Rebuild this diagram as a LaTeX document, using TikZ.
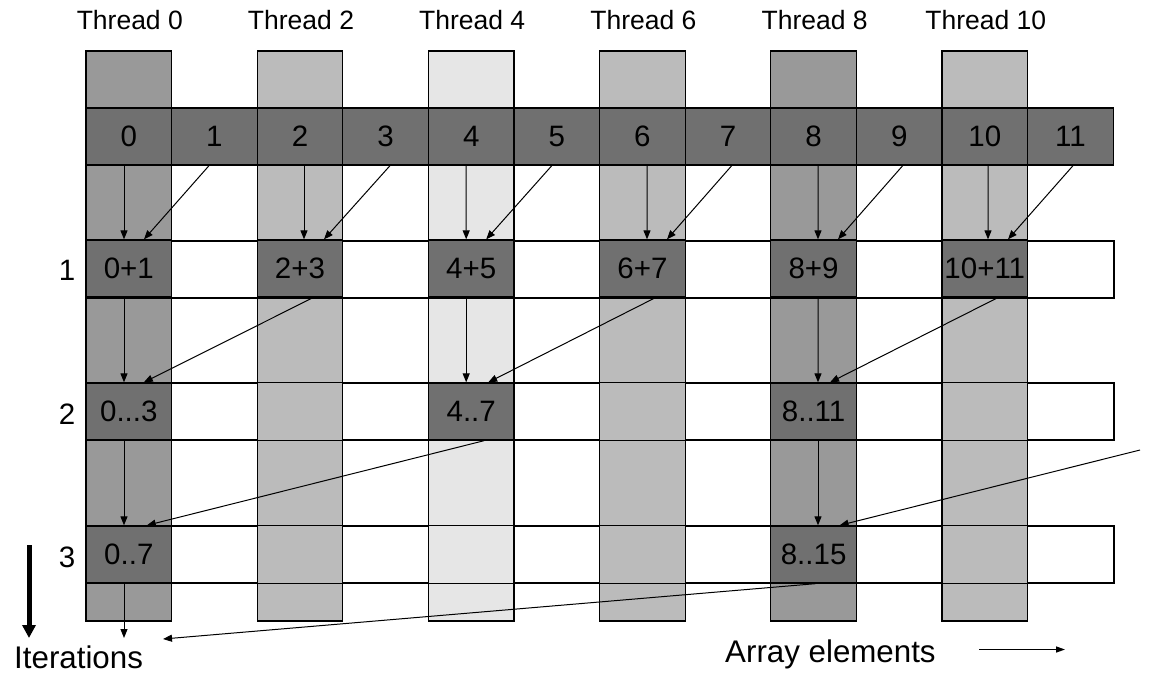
\documentclass[tikz,border=0pt]{standalone}
\usepackage{fontspec}
\setmainfont{Liberation Sans}
\usetikzlibrary{arrows.meta}
\definecolor{cdark}{HTML}{707070}
\definecolor{cmid}{HTML}{999999}
\definecolor{clight}{HTML}{BBBBBB}
\definecolor{cpale}{HTML}{E6E6E6}
\newcommand{\cellfont}{\fontsize{29.5}{32}\selectfont}
\newcommand{\thrfont}{\fontsize{26.5}{30}\selectfont}
\newcommand{\axfont}{\fontsize{31.3}{34}\selectfont}
\tikzset{
  box/.style={draw=black, line width=1.3pt, inner sep=0pt, minimum width=85.6pt, minimum height=57pt},
  elem/.style={box, fill=cdark, font=\cellfont},
  darkcell/.style={box, fill=cdark, font=\cellfont},
  colbar/.style={draw=black, line width=1.3pt, inner sep=0pt, minimum width=85.6pt, minimum height=570pt},
  rowbar/.style={draw=black, line width=1.3pt, inner sep=0pt, minimum width=1027.2pt, minimum height=57pt},
  arr/.style={line width=1pt, -{Triangle[length=9pt,width=7pt]}},
  thr/.style={font=\thrfont, inner sep=0pt},
  rlbl/.style={font=\cellfont, inner sep=0pt},
  axlbl/.style={font=\axfont, anchor=base west, inner sep=0pt},
}
\begin{document}
\begin{tikzpicture}[x=1pt,y=-1pt]
\fill[white] (0,0) rectangle (1150,673);
\useasboundingbox (0,0) rectangle (1150,673);
% row bands (white)
\foreach \r/\y in {1/269.5,2/411.5,3/554.5}
  \node[rowbar, fill=white] (r\r) at (599.6,\y) {};
% thread columns
\foreach \k/\c in {0/cmid,1/clight,2/cpale,3/clight,4/cmid,5/clight}
  \node[colbar, fill=\c] (t\k) at ({128.8+171.2*\k},336) {};
% row outlines over columns
\foreach \r in {1,2,3}
  \draw[line width=1.3pt] (r\r.north west) rectangle (r\r.south east);
% thread labels
\foreach \k/\n in {0/0,1/2,2/4,3/6,4/8,5/10}
  \node[thr] (h\k) at ({129.8+171.2*\k},20) {Thread \n};
% array elements
\foreach \i in {0,...,11}
  \node[elem] (e\i) at ({128.8+85.6*\i},136.5) {\i};
% iteration 1 cells
\foreach \k/\t in {0/0+1,1/2+3,2/4+5,3/6+7,4/8+9,5/10+11}
  \node[darkcell] (c1-\k) at ({128.8+171.2*\k},268.5) {\t};
% iteration 2 cells
\node[darkcell] (c2-0) at (128.8,411.5) {0...3};
\node[darkcell] (c2-2) at (471.2,411.5) {4..7};
\node[darkcell] (c2-4) at (813.6,411.5) {8..11};
% iteration 3 cells
\node[darkcell] (c3-0) at (128.8,554.5) {0..7};
\node[darkcell] (c3-4) at (813.6,554.5) {8..15};
% row labels
\node[rlbl] (l1) at (67,270) {1};
\node[rlbl] (l2) at (67,414) {2};
\node[rlbl] (l3) at (67,557) {3};
% arrows: array -> iteration 1
\foreach \k/\v/\d in {0/-4.8/-5.4,1/4/4.4,2/-5/-5,3/4.6/3.7,4/4.4/3.5,5/3.2/2.6}{
  \pgfmathtruncatemacro{\ea}{2*\k}
  \pgfmathtruncatemacro{\eb}{2*\k+1}
  \draw[arr] ([xshift=\v pt]e\ea.south) -- ([xshift=\v pt]c1-\k.north);
  \draw[arr] ([xshift=\d pt]e\eb.south) -- ([xshift=\v pt+20pt]c1-\k.north);
}
% iteration 1 -> 2
\draw[arr] ([xshift=-4.8pt]c1-0.south) -- ([xshift=-4.8pt]c2-0.north);
\draw[arr] ([xshift=13pt]c1-1.south) -- ([xshift=15pt]c2-0.north);
\draw[arr] ([xshift=-5pt]c1-2.south) -- ([xshift=-5pt]c2-2.north);
\draw[arr] ([xshift=13pt]c1-3.south) -- ([xshift=17pt]c2-2.north);
\draw[arr] ([xshift=4.4pt]c1-4.south) -- ([xshift=4.4pt]c2-4.north);
\draw[arr] ([xshift=13pt]c1-5.south) -- ([xshift=16.4pt]c2-4.north);
% iteration 2 -> 3
\draw[arr] ([xshift=-4.8pt]c2-0.south) -- ([xshift=-4.8pt]c3-0.north);
\draw[arr] ([xshift=13pt]c2-2.south) -- ([xshift=18pt]c3-0.north);
\draw[arr] ([xshift=4.4pt]c2-4.south) -- ([xshift=4.4pt]c3-4.north);
\coordinate (in8) at (1140,450);
\draw[arr] (in8) -- ([xshift=26pt]c3-4.north);
% iteration 3 -> out
\coordinate (out0) at (124,638);
\coordinate (outL) at (163,639);
\draw[arr] ([xshift=-4.8pt]c3-0.south) -- (out0);
\draw[arr] ([xshift=2pt]c3-4.south) -- (outL);
% axis labels
\coordinate (itop) at (29,545);
\coordinate (ibot) at (29,638);
\draw[line width=5pt, -{Triangle[length=13pt,width=13pt]}] (itop) -- (ibot);
\node[axlbl] (iter) at (14,668) {Iterations};
\node[axlbl] (arrel) at (725,662) {Array elements};
\coordinate (as) at (979,649.5);
\coordinate (ae) at (1065,649.5);
\draw[line width=1.3pt, -{Triangle[length=9pt,width=6pt]}] (as) -- (ae);
\end{tikzpicture}
\end{document}
